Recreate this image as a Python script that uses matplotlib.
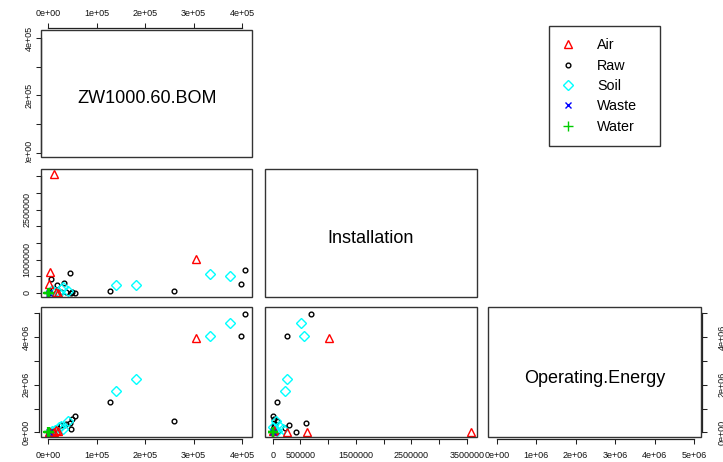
import matplotlib
matplotlib.use("Agg")
import matplotlib.pyplot as plt
from matplotlib.patches import Rectangle
from matplotlib.lines import Line2D
from matplotlib.transforms import Bbox, TransformedBbox

plt.rcParams['font.family'] = ['Liberation Sans', 'DejaVu Sans']

# ---------------- data ----------------
variables = ["ZW1000.60.BOM", "Installation", "Operating.Energy"]
categories = ["Air", "Raw", "Soil", "Waste", "Water"]

raw_bom  = [407000, 398000, 127700, 258600, 55000, 48000, 45000, 33000, 18600, 5000, 26000, 47000, 10000, 2000, 1000, 37000]
raw_inst = [690000, 260000, 70000, 70000, 10000, 15000, 608000, 290000, 230000, 428000, 20000, 5000, 100000, 30000, 5000, 40000]
raw_op   = [4950000, 4040000, 1280000, 485000, 680000, 543000, 377000, 305000, 167000, 10000, 320000, 150000, 50000, 20000, 5000, 340000]

air_bom  = [10400, 3500, 2000, 305600, 15000, 20000]
air_inst = [3580000, 620000, 260000, 1020000, 30000, 10000]
air_op   = [10000, 25000, 25000, 3960000, 100000, 60000]

soil_bom  = [374500, 333000, 180000, 140000, 40000, 30000, 20700, 14000, 8000, 25000]
soil_inst = [510000, 560000, 250000, 230000, 60000, 190000, 10000, 40000, 80000, 120000]
soil_op   = [4590000, 4040000, 2220000, 1730000, 485000, 125000, 234000, 100000, 60000, 280000]

waste_bom  = [500]
waste_inst = [2000]
waste_op   = [3000]

water_bom  = [0, 1000, 2000, 500]
water_inst = [0, 5000, 1000, 8000]
water_op   = [0, 2000, 10000, 5000]

bom_ticks = [0, 100000, 200000, 300000, 400000]
bom_labels = ["0e+00", "1e+05", "2e+05", "3e+05", "4e+05"]
bom_labels_y = ["0e+00", "", "2e+05", "", "4e+05"]
inst_ticks = [0, 500000, 1000000, 1500000, 2000000, 2500000, 3000000, 3500000]
inst_labels_x = ["0", "500000", "", "1500000", "", "2500000", "", "3500000"]
inst_labels_y = ["0", "", "1000000", "", "", "2500000", "", ""]
op_ticks = [0, 1000000, 2000000, 3000000, 4000000, 5000000]
op_labels_x = ["0e+00", "1e+06", "2e+06", "3e+06", "4e+06", "5e+06"]
op_labels_y = ["0e+00", "", "2e+06", "", "4e+06", ""]

# ---------------- figure ----------------
W, H = 723, 462
fig = plt.figure(figsize=(W / 100, H / 100), dpi=100)

cols = [(41, 252.3), (265, 477), (488.3, 701)]
rows = [(29.5, 157), (169.5, 297), (306.5, 436.5)]

lims = [(-15500, 421500), (-139000, 3686000), (-213000, 5177000)]
ylims = [(-15000, 430000), (-120000, 3704000), (-176000, 5286000)]


def make_ax(r, c):
    x0, x1 = cols[c]
    y0, y1 = rows[r]
    ax = fig.add_axes([x0 / W, 1 - y1 / H, (x1 - x0) / W, (y1 - y0) / H])
    ax.set_facecolor('none')
    for s in ax.spines.values():
        s.set_visible(False)
    ax.add_patch(Rectangle((0, 0), 1, 1, transform=ax.transAxes, fill=False,
                           lw=1.0, ec='#333333', clip_on=False, zorder=5))
    ax.set_xlim(*lims[c])
    ax.set_ylim(*ylims[r])
    ax.tick_params(axis='both', length=3.8, width=0.75, labelsize=6.5,
                   color='#222222', labelcolor='#111111')
    ax.tick_params(axis='x', bottom=False, top=False, labelbottom=False, labeltop=False)
    ax.tick_params(axis='y', left=False, right=False, labelleft=False, labelright=False)
    return ax


def x_axis(ax, side, ticks, labels, offset_px, pad):
    sp = ax.spines[side]
    sp.set_visible(True)
    sp.set_position(('outward', offset_px * 0.72))
    sp.set_bounds(ticks[0], ticks[-1])
    sp.set_linewidth(0.9)
    sp.set_color('#222222')
    ax.set_xticks(ticks, labels)
    if side == 'top':
        ax.tick_params(axis='x', top=True, labeltop=True, pad=pad)
    else:
        ax.tick_params(axis='x', bottom=True, labelbottom=True, pad=pad)


def y_axis(ax, side, ticks, labels, offset_px, pad):
    sp = ax.spines[side]
    sp.set_visible(True)
    sp.set_position(('outward', offset_px * 0.72))
    sp.set_bounds(ticks[0], ticks[-1])
    sp.set_linewidth(0.9)
    sp.set_color('#222222')
    ax.set_yticks(ticks, labels)
    if side == 'left':
        ax.tick_params(axis='y', left=True, labelleft=True, pad=pad, labelrotation=90)
        for t in ax.yaxis.get_major_ticks():
            t.label1.set_va('center')
            t.label1.set_ha('right')
    else:
        ax.tick_params(axis='y', right=True, labelright=True, pad=pad, labelrotation=90)
        for t in ax.yaxis.get_major_ticks():
            t.label2.set_va('center')
            t.label2.set_ha('left')


data = {
    "Raw": (raw_bom, raw_inst, raw_op),
    "Soil": (soil_bom, soil_inst, soil_op),
    "Air": (air_bom, air_inst, air_op),
    "Waste": (waste_bom, waste_inst, waste_op),
    "Water": (water_bom, water_inst, water_op),
}
styles = {
    "Air":   dict(marker='^', color='#FF0000', ms=6.0, mew=1.0),
    "Raw":   dict(marker='o', color='#000000', ms=3.4, mew=1.0),
    "Soil":  dict(marker='D', color='#00FFFF', ms=4.8, mew=1.0),
    "Waste": dict(marker='x', color='#0000FF', ms=5.0, mew=1.0),
    "Water": dict(marker='+', color='#00CC00', ms=7.0, mew=1.6),
}
draw_order = ["Raw", "Soil", "Air", "Waste", "Water"]


def scatter(ax, xi, yi):
    for cat in draw_order:
        st = styles[cat]
        vals = data[cat]
        ax.plot(vals[xi], vals[yi], linestyle='none', marker=st['marker'],
                mfc='none', mec=st['color'], ms=st['ms'], mew=st['mew'])


# diagonal panels (label shift below centre, in pixels)
diag_offsets = [5.1, 5.1, 6.6]
axes = {}
for i in range(3):
    ax = make_ax(i, i)
    y0, y1 = rows[i]
    ax.text(0.5, 0.5 - diag_offsets[i] / (y1 - y0), variables[i], transform=ax.transAxes,
            ha='center', va='center', fontsize=13)
    axes[(i, i)] = ax

# lower panels
for (r, c) in [(1, 0), (2, 0), (2, 1)]:
    ax = make_ax(r, c)
    scatter(ax, c, r)
    axes[(r, c)] = ax

# axes
x_axis(axes[(0, 0)], 'top', bom_ticks, bom_labels, 1.5, 3.5)
y_axis(axes[(0, 0)], 'left', bom_ticks, bom_labels_y, 0, 1.5)
y_axis(axes[(1, 0)], 'left', inst_ticks, inst_labels_y, 0, 3.0)
x_axis(axes[(2, 0)], 'bottom', bom_ticks, bom_labels, 2, 5.5)
y_axis(axes[(2, 0)], 'left', op_ticks, op_labels_y, 2, 2.0)
x_axis(axes[(2, 1)], 'bottom', inst_ticks, inst_labels_x, 2, 5.5)
x_axis(axes[(2, 2)], 'bottom', op_ticks, op_labels_x, 2, 5.5)
y_axis(axes[(2, 2)], 'right', op_ticks, op_labels_y, 1, 7.5)

# clip the top-left panel's y labels to its cell (like R's figure region)
clipbox = TransformedBbox(Bbox([[0, 1 - 163 / H], [1, 1]]), fig.transFigure)
for t in axes[(0, 0)].yaxis.get_major_ticks():
    t.label1.set_clip_on(True)
    t.label1.set_clip_box(clipbox)

# legend
handles = [Line2D([], [], linestyle='none', marker=styles[c]['marker'], mfc='none',
                  mec=styles[c]['color'], ms=styles[c]['ms'] if c != 'Water' else 6.5,
                  mew=1.0) for c in categories]
lx0, ly0, lx1, ly1 = 549, 26, 660, 145
leg = fig.legend(handles, categories, loc='upper left',
                 bbox_to_anchor=(lx0 / W, 1 - ly1 / H, (lx1 - lx0) / W, (ly1 - ly0) / H),
                 mode='expand', fontsize=10.3, frameon=True, fancybox=False,
                 framealpha=1, edgecolor='#333333', borderpad=0.85, labelspacing=0.45,
                 handlelength=1.0, handletextpad=1.5, borderaxespad=0)
leg.get_frame().set_linewidth(1.0)

fig.savefig("out.png", dpi=100)
